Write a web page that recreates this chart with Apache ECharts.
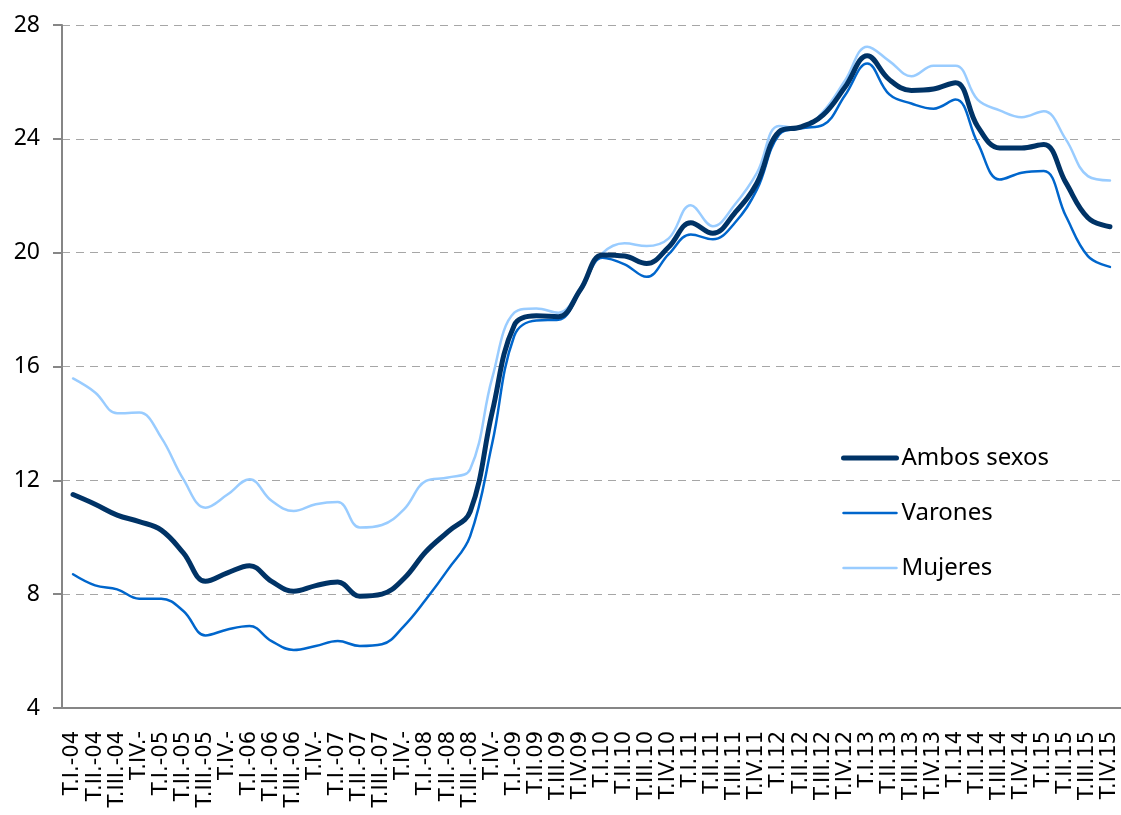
<!DOCTYPE html>
<html>
<head>
<meta charset="utf-8">
<script src="https://cdn.jsdelivr.net/npm/echarts@6/dist/echarts.min.js"></script>
<style>
  html, body { margin: 0; padding: 0; background: #fff; }
  #chart { width: 1121px; height: 815px; }
</style>
</head>
<body>
<div id="chart"></div>
<script>
// etiquetas de trimestres
var trimestres = [
  'T.I.-04', 'T.II.-04', 'T.III.-04', 'T.IV.-',
  'T.I.-05', 'T.II.-05', 'T.III.-05', 'T.IV.-',
  'T.I.-06', 'T.II.-06', 'T.III.-06', 'T.IV.-',
  'T.I.-07', 'T.II.-07', 'T.III.-07', 'T.IV.-',
  'T.I.-08', 'T.II.-08', 'T.III.-08', 'T.IV.-',
  'T.I.-09', 'T.II.09', 'T.III.09', 'T.IV.09',
  'T.I.10', 'T.II.10', 'T.III.10', 'T.IV.10',
  'T.I.11', 'T.II.11', 'T.III.11', 'T.IV.11',
  'T.I.12', 'T.II.12', 'T.III.12', 'T.IV.12',
  'T.I.13', 'T.II.13', 'T.III.13', 'T.IV.13',
  'T.I.14', 'T.II.14', 'T.III.14', 'T.IV.14',
  'T.I.15', 'T.II.15', 'T.III.15', 'T.IV.15'
];

var ambosSexos = [
  11.5, 11.16, 10.78, 10.55, 10.25, 9.45, 8.45, 8.75,
  9.0, 8.45, 8.1, 8.3, 8.43, 7.93, 8.0, 8.55,
  9.5, 10.2, 10.9, 14.4, 17.45, 17.78, 17.75, 18.7,
  19.92, 19.88, 19.62, 20.2, 21.05, 20.68, 21.4, 22.45,
  24.25, 24.42, 24.84, 25.83, 26.92, 26.08, 25.7, 25.75,
  25.97, 24.44, 23.68, 23.68, 23.8, 22.46, 21.23, 20.91
];

var varones = [
  8.7, 8.31, 8.17, 7.84, 7.84, 7.41, 6.55, 6.76,
  6.88, 6.35, 6.04, 6.18, 6.35, 6.18, 6.24, 6.88,
  7.82, 8.87, 10.04, 13.3, 17.08, 17.62, 17.64, 18.65,
  19.82, 19.59, 19.15, 19.95, 20.64, 20.47, 21.05, 22.22,
  24.14, 24.37, 24.49, 25.54, 26.65, 25.56, 25.24, 25.06,
  25.38, 23.86, 22.57, 22.81, 22.87, 21.29, 19.88, 19.5
];

var mujeres = [
  15.58, 15.09, 14.36, 14.38, 13.5, 12.04, 11.04, 11.5,
  12.04, 11.28, 10.92, 11.16, 11.24, 10.34, 10.43, 10.98,
  11.98, 12.1, 12.39, 15.6, 17.89, 18.04, 17.89, 18.77,
  19.98, 20.33, 20.23, 20.5, 21.67, 20.93, 21.69, 22.8,
  24.45, 24.37, 24.96, 26.06, 27.24, 26.73, 26.2, 26.57,
  26.57, 25.38, 25.0, 24.76, 24.97, 23.98, 22.69, 22.54
];

var myChart = echarts.init(document.getElementById('chart'));

function serie(nombre, datos, color, ancho) {
  return {
    name: nombre,
    type: 'line',
    data: datos,
    symbol: 'none',
    smooth: 0.4,
    lineStyle: { color: color, width: ancho, cap: 'round', join: 'round' },
    itemStyle: { color: color }
  };
}

var option = {
  animation: false,
  grid: { left: 62, right: 0, top: 25, bottom: 107 },
  legend: {
    orient: 'vertical',
    left: 836,
    top: 438,
    itemWidth: 53,
    itemHeight: 14,
    itemGap: 25,
    itemStyle: { opacity: 0 },
    textStyle: { fontFamily: 'Noto Sans', fontSize: 24, color: '#000', lineHeight: 30 },
    data: [
      { name: 'Ambos sexos', lineStyle: { width: 5, color: '#003366', cap: 'round' } },
      { name: 'Varones', lineStyle: { width: 2.5, color: '#0066CC' } },
      { name: 'Mujeres', lineStyle: { width: 2.5, color: '#99CCFF' } }
    ]
  },
  xAxis: {
    type: 'category',
    data: trimestres,
    boundaryGap: true,
    axisLine: { lineStyle: { color: '#868686', width: 2 } },
    axisTick: { interval: 3, length: 9, lineStyle: { color: '#868686', width: 2 } },
    axisLabel: {
      interval: 0,
      rotate: 90,
      margin: 23,
      fontFamily: 'DejaVu Sans',
      fontSize: 21,
      color: '#000'
    },
    splitLine: { show: false }
  },
  yAxis: {
    type: 'value',
    min: 4,
    max: 28,
    interval: 4,
    axisLine: { show: true, lineStyle: { color: '#868686', width: 2 } },
    axisTick: { show: true, length: 9, lineStyle: { color: '#868686', width: 2 } },
    axisLabel: { margin: 22, fontFamily: 'Noto Sans', fontSize: 23, color: '#000' },
    splitLine: { lineStyle: { color: '#a6a6a6', width: 1.2, type: [8, 6] } }
  },
  series: [
    serie('Mujeres', mujeres, '#99CCFF', 2.5),
    serie('Varones', varones, '#0066CC', 2.5),
    serie('Ambos sexos', ambosSexos, '#003366', 5)
  ]
};

myChart.setOption(option);
</script>
</body>
</html>
